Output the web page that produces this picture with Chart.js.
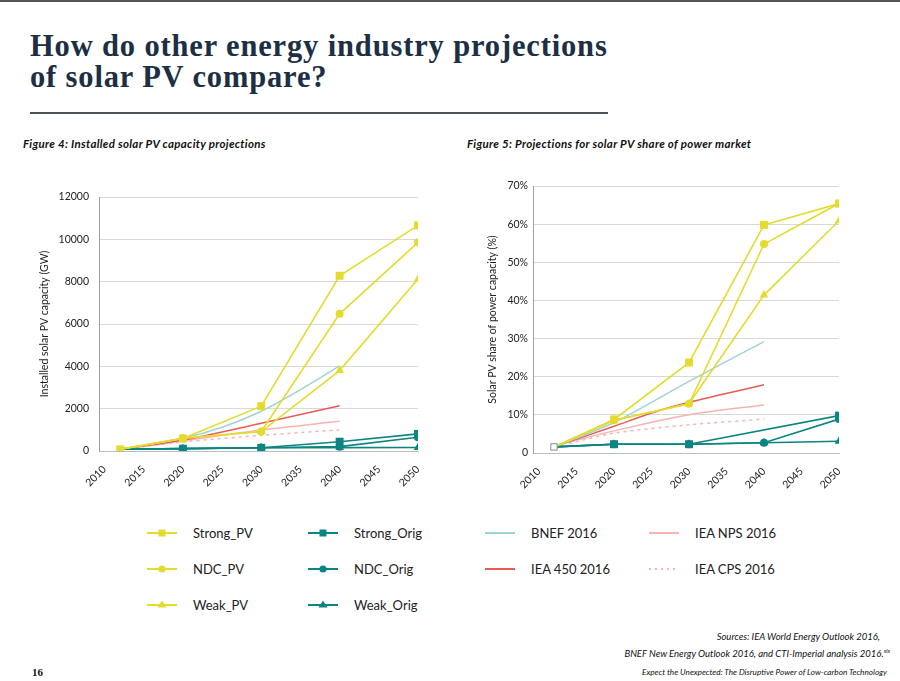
<!DOCTYPE html>
<html>
<head>
<meta charset="utf-8">
<script src="https://cdn.jsdelivr.net/npm/chart.js@4.4.0/dist/chart.umd.min.js"></script>
<style>
  body { margin: 0; width: 900px; height: 681px; position: relative; background: #fff; overflow: hidden; font-family: Lato, sans-serif; color: #222; }
  .topbar { position: absolute; left: 0; top: 0; width: 900px; height: 2px; background: #555; }
  h1 { position: absolute; left: 30px; top: 31px; margin: 0; font-family: "Liberation Serif", serif; font-weight: bold; font-size: 30.5px; line-height: 31px; letter-spacing: 0.85px; color: #1c2f44; white-space: nowrap; }
  .rule { position: absolute; left: 30px; top: 112px; width: 578px; height: 2px; background: #4a525a; }
  .caption { position: absolute; top: 137px; font-style: italic; font-weight: bold; font-size: 11.5px; line-height: 13px; letter-spacing: 0.3px; color: #111; white-space: nowrap; }
  canvas { position: absolute; }
  .leg { position: absolute; height: 16px; white-space: nowrap; font-size: 13px; line-height: 16px; color: #222; }
  .leg svg { position: absolute; left: 0; top: 2px; }
  .leg span { position: absolute; }
  .src { position: absolute; right: 20px; font-style: italic; font-size: 9.5px; line-height: 12px; color: #111; white-space: nowrap; text-align: right; }
  .src sup { font-size: 5.5px; }
  .foot { position: absolute; right: 13px; top: 667px; font-style: italic; font-size: 8.2px; line-height: 10px; color: #111; white-space: nowrap; }
  .page { position: absolute; left: 32px; top: 666px; font-family: "Liberation Serif", serif; font-weight: bold; font-size: 11px; line-height: 13px; color: #111; }
</style>
</head>
<body>
<div class="topbar"></div>
<h1>How do other energy industry projections<br>of solar PV compare?</h1>
<div class="rule"></div>
<div class="caption" style="left:23px">Figure 4: Installed solar PV capacity projections</div>
<div class="caption" style="left:467px">Figure 5: Projections for solar PV share of power market</div>

<canvas id="capChart" width="420" height="330" style="left:20px; top:170px; width:420px; height:330px"></canvas>
<canvas id="shareChart" width="430" height="330" style="left:460px; top:170px; width:430px; height:330px"></canvas>

<div id="legend"></div>

<div class="src" style="top:631px">Sources: IEA World Energy Outlook 2016,</div>
<div class="src" style="top:645px; right:10px">BNEF New Energy Outlook 2016, and CTI-Imperial analysis 2016.<sup>xix</sup></div>
<div class="foot">Expect the Unexpected: The Disruptive Power of Low-carbon Technology</div>
<div class="page">16</div>

<script>
// x axis
const X_TICKS = [2010, 2015, 2020, 2025, 2030, 2035, 2040, 2045, 2050];

// scenario years
const YEARS = [2012, 2020, 2030, 2040, 2050];
const YEARS_NO2040 = [2012, 2020, 2030, 2050];

// Figure 4: installed capacity (GW)
const CAP_STRONG_PV = [80, 590, 2120, 8280, 10660];
const CAP_NDC_PV = [80, 600, 920, 6480, 9860];
const CAP_WEAK_PV = [80, 600, 920, 3800, 8120];
const CAP_STRONG_ORIG = [80, 110, 150, 440, 810];
const CAP_NDC_ORIG = [80, 110, 150, 205, 650];
const CAP_WEAK_ORIG = [80, 110, 150, 160, 165];
const CAP_BNEF_YEARS = [2012, 2020, 2025, 2030, 2035, 2040];
const CAP_BNEF = [80, 600, 1120, 1880, 2900, 4020];
const CAP_IEA_YEARS = [2012, 2020, 2030, 2040];
const CAP_IEA450 = [80, 520, 1310, 2140];
const CAP_IEANPS = [80, 480, 990, 1410];
const CAP_IEACPS = [80, 425, 740, 1000];

// Figure 5: share of power capacity (%)
const SHR_STRONG_PV = [1.6, 8.8, 23.7, 59.8, 65.4];
const SHR_NDC_PV = [1.6, 8.6, 12.9, 54.8, 65.4];
const SHR_WEAK_PV = [1.6, 8.6, 12.9, 41.4, 60.9];
const SHR_STRONG_ORIG = [1.6, 2.3, 2.3, 9.8];
const SHR_NDC_ORIG = [1.6, 2.3, 2.3, 2.7, 8.9];
const SHR_WEAK_ORIG = [1.6, 2.3, 2.3, 2.7, 3.1];
const SHR_BNEF_YEARS = [2012, 2020, 2030, 2040];
const SHR_BNEF = [1.6, 8.0, 18.8, 29.2];
const SHR_IEA450_YEARS = [2012, 2020, 2025, 2030, 2040];
const SHR_IEA450 = [1.6, 7.0, 10.5, 13.3, 17.9];
const SHR_IEA_YEARS = [2014, 2020, 2030, 2040];
const SHR_IEANPS = [2.9, 5.8, 10.0, 12.6];
const SHR_IEACPS = [2.5, 5.2, 7.4, 8.9];

const YELLOW = '#e3dc2f';
const TEAL = '#0b8582';
const BNEF_C = '#a0d3d4';
const RED = '#e95b56';
const PINK = '#f6b4b0';

const MARK_R = { rect: 5.6, circle: 4, triangle: 5 };

function pts(xs, ys) {
    return xs.map((x, i) => ({ x: x, y: ys[i] }));
}

// one scenario series; first point hidden unless showFirst
function scenario(label, xs, ys, color, shape, showFirst) {
    const r = ys.map((v, i) => (i === 0 && !showFirst) ? 0 : MARK_R[shape]);
    return {
        label: label,
        data: pts(xs, ys),
        borderColor: color,
        backgroundColor: color,
        borderWidth: 1.6,
        pointStyle: shape,
        pointRadius: r,
        pointBackgroundColor: color,
        pointBorderColor: color,
        pointBorderWidth: 0,
        tension: 0
    };
}

function refLine(label, xs, ys, color, dash) {
    return {
        label: label,
        data: pts(xs, ys),
        borderColor: color,
        backgroundColor: color,
        borderWidth: 1.5,
        borderDash: dash || [],
        pointRadius: 0,
        tension: 0.3
    };
}

function makeOptions(c) {
    const tickFont = { family: 'Lato', size: 10.5 };
    return {
        responsive: false,
        animation: false,
        layout: { padding: c.padding },
        plugins: { legend: { display: false }, tooltip: { enabled: false } },
        scales: {
            x: {
                type: 'linear',
                min: c.xMin,
                max: 2050,
                afterBuildTicks: axis => { axis.ticks = X_TICKS.map(v => ({ value: v })); },
                afterFit: axis => { axis.height = c.xHeight; },
                grid: { display: false },
                border: { color: '#bdbdbd', width: 1 },
                ticks: {
                    autoSkip: false, minRotation: 45, maxRotation: 45, padding: 4,
                    color: '#222', font: tickFont,
                    callback: v => String(v)
                }
            },
            y: {
                min: 0,
                max: c.yMax,
                afterFit: axis => { axis.width = c.yWidth; },
                grid: { color: '#d9d9d9', drawTicks: false },
                border: { color: '#a0a0a0', width: 1 },
                ticks: { stepSize: c.yStep, padding: c.tickPad, color: '#222', font: tickFont, callback: c.tickFmt },
                title: { display: true, text: c.yTitle, color: '#222', font: { family: 'Lato', size: 10.5 }, padding: { top: 4, bottom: 4 } }
            }
        }
    };
}

// Figure 4
new Chart(document.getElementById('capChart'), {
    type: 'line',
    data: {
        datasets: [
            scenario('Strong_PV', YEARS, CAP_STRONG_PV, YELLOW, 'rect', true),
            scenario('NDC_PV', YEARS, CAP_NDC_PV, YELLOW, 'circle'),
            scenario('Weak_PV', YEARS, CAP_WEAK_PV, YELLOW, 'triangle'),
            scenario('Strong_Orig', YEARS, CAP_STRONG_ORIG, TEAL, 'rect'),
            scenario('NDC_Orig', YEARS, CAP_NDC_ORIG, TEAL, 'circle'),
            scenario('Weak_Orig', YEARS, CAP_WEAK_ORIG, TEAL, 'triangle'),
            refLine('BNEF 2016', CAP_BNEF_YEARS, CAP_BNEF, BNEF_C),
            refLine('IEA 450 2016', CAP_IEA_YEARS, CAP_IEA450, RED),
            refLine('IEA NPS 2016', CAP_IEA_YEARS, CAP_IEANPS, PINK),
            refLine('IEA CPS 2016', CAP_IEA_YEARS, CAP_IEACPS, PINK, [3, 4])
        ]
    },
    options: makeOptions({
        xMin: 2009.3, yMax: 12000, yStep: 2000,
        yTitle: 'Installed solar PV capacity (GW)',
        tickFmt: v => String(v),
        padding: { left: 14, top: 27, right: 22, bottom: 0 },
        yWidth: 65, xHeight: 49, tickPad: 10
    })
});

// Figure 5
const shareStrong = scenario('Strong_PV', YEARS, SHR_STRONG_PV, YELLOW, 'rect', true);
shareStrong.pointBackgroundColor = SHR_STRONG_PV.map((v, i) => i === 0 ? '#fff' : YELLOW);
shareStrong.pointBorderColor = SHR_STRONG_PV.map((v, i) => i === 0 ? '#8a8a8a' : YELLOW);
shareStrong.pointBorderWidth = SHR_STRONG_PV.map((v, i) => i === 0 ? 1 : 0);
shareStrong.pointRadius = SHR_STRONG_PV.map((v, i) => i === 0 ? 4.5 : 5.6);

new Chart(document.getElementById('shareChart'), {
    type: 'line',
    data: {
        datasets: [
            shareStrong,
            scenario('NDC_PV', YEARS, SHR_NDC_PV, YELLOW, 'circle'),
            scenario('Weak_PV', YEARS, SHR_WEAK_PV, YELLOW, 'triangle'),
            scenario('Strong_Orig', YEARS_NO2040, SHR_STRONG_ORIG, TEAL, 'rect'),
            scenario('NDC_Orig', YEARS, SHR_NDC_ORIG, TEAL, 'circle'),
            scenario('Weak_Orig', YEARS, SHR_WEAK_ORIG, TEAL, 'triangle'),
            refLine('BNEF 2016', SHR_BNEF_YEARS, SHR_BNEF, BNEF_C),
            refLine('IEA 450 2016', SHR_IEA450_YEARS, SHR_IEA450, RED),
            refLine('IEA NPS 2016', SHR_IEA_YEARS, SHR_IEANPS, PINK),
            refLine('IEA CPS 2016', SHR_IEA_YEARS, SHR_IEACPS, PINK, [3, 4])
        ]
    },
    options: makeOptions({
        xMin: 2009.2, yMax: 70, yStep: 10,
        yTitle: 'Solar PV share of power capacity (%)',
        tickFmt: v => v === 0 ? '0' : v + '%',
        padding: { left: 22, top: 16, right: 51, bottom: 0 },
        yWidth: 51, xHeight: 47, tickPad: 5
    })
});

// Shared legend below both charts
const LEGEND_ITEMS = [
    ['Strong_PV', YELLOW, 'rect'], ['NDC_PV', YELLOW, 'circle'], ['Weak_PV', YELLOW, 'triangle'],
    ['Strong_Orig', TEAL, 'rect'], ['NDC_Orig', TEAL, 'circle'], ['Weak_Orig', TEAL, 'triangle'],
    ['BNEF 2016', BNEF_C, null], ['IEA 450 2016', RED, null],
    ['IEA NPS 2016', PINK, null], ['IEA CPS 2016', PINK, 'dash']
];
const LEGEND_COL_X = [147, 308, 485, 649];
const LEGEND_ROW_Y = [533, 569, 605];

function sampleSvg(color, shape) {
    let line = '<line x1="0" y1="6" x2="30" y2="6" stroke="' + color + '" stroke-width="2"' +
        (shape === 'dash' ? ' stroke-dasharray="2,4"' : '') + '/>';
    let mark = '';
    if (shape === 'rect') mark = '<rect x="11.5" y="2.5" width="7" height="7" fill="' + color + '"/>';
    if (shape === 'circle') mark = '<circle cx="15" cy="6" r="3.6" fill="' + color + '"/>';
    if (shape === 'triangle') mark = '<polygon points="15,1.5 19.5,8.5 10.5,8.5" fill="' + color + '"/>';
    return '<svg width="30" height="12">' + line + mark + '</svg>';
}

const legend = document.getElementById('legend');
LEGEND_ITEMS.forEach((item, i) => {
    let c, r;
    if (i < 6) { c = Math.floor(i / 3); r = i % 3; }
    else { c = 2 + Math.floor((i - 6) / 2); r = (i - 6) % 2; }
    const div = document.createElement('div');
    div.className = 'leg';
    div.style.left = LEGEND_COL_X[c] + 'px';
    div.style.top = (LEGEND_ROW_Y[r] - 8) + 'px';
    div.innerHTML = sampleSvg(item[1], item[2]) + '<span style="left:46px">' + item[0] + '</span>';
    legend.appendChild(div);
});
</script>
</body>
</html>
